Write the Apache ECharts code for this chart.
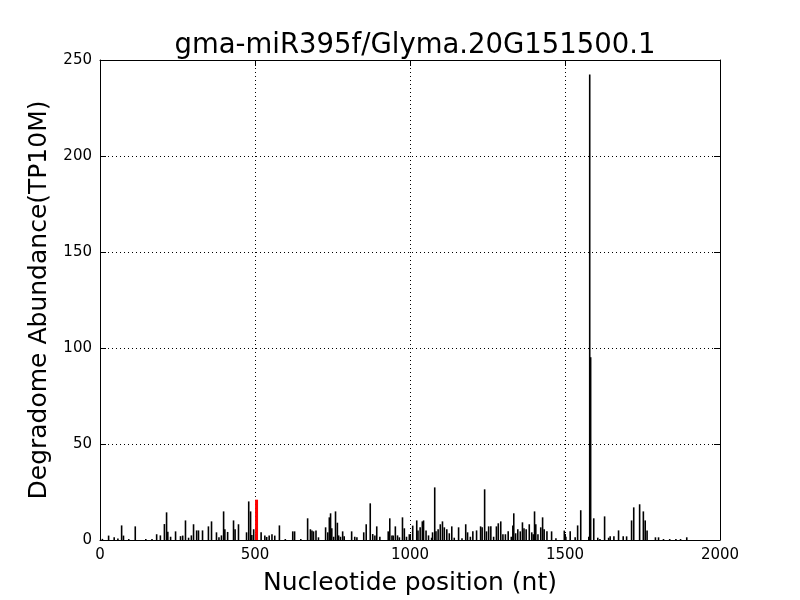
<!DOCTYPE html>
<html><head><meta charset="utf-8">
<script src="https://cdn.jsdelivr.net/npm/echarts@6/dist/echarts.min.js"></script>
<style>html,body{margin:0;padding:0;background:#fff}#c{width:800px;height:600px}</style>
</head><body><div id="c"></div>
<script>
const titleText = "gma-miR395f/Glyma.20G151500.1";
const xTicks = [0, 500, 1000, 1500, 2000];
const yTicks = [0, 50, 100, 150, 200, 250];
const positions = [10,30,48,60,72,78,95,116,150,170,185,197,210,217,221,230,246,262,269,278,288,297,304,314,320,333,352,362,378,386,394,401,405,414,433,438,449,475,482,488,492,498,
522,534,540,548,557,566,581,600,624,630,650,672,681,686,691,699,707,730,737,742,746,750,756,762,768,772,778,785,790,814,824,831,853,861,874,882,889,895,905,932,937,944,948,955,962,968,978,984,991,
1000,1011,1024,1028,1035,1042,1046,1054,1062,1072,1075,1082,1086,1093,1100,1107,1113,1121,1129,1137,1145,1159,1170,1182,1188,1197,1205,1217,1230,1235,1243,1249,1256,1263,1272,1281,1287,1295,1302,1310,1319,1329,1334,1337,1343,1350,1358,1365,1370,1377,1387,1395,1400,1404,1408,1415,1424,1430,1435,1444,1459,1473,
1500,1505,1519,1535,1543,1553,1579,1582,1585,1595,1608,1615,1630,1643,1648,1660,1675,1690,1701,1717,1724,1743,1755,1761,1767,1794,1804,1820,1840,1860,1875,1895];
const values = [0.6,2.3,1.4,0.8,7.6,2.3,0.5,7.1,0.5,0.5,3,2.4,8.3,14.4,4.3,1.7,4.5,2,2.3,10.2,1.2,2.4,8.2,5,5,5,7.1,9.7,4,1.4,2.4,14.9,5.6,4.2,10.2,5.6,8.2,4,20.1,14.9,2.6,5.6,
4,2.3,1.6,2.4,3,2.3,7.6,0.5,4.5,4.5,0.5,11.3,5.6,5,4.5,5,1.4,6.6,4,11.8,13.9,6.1,1.7,14.9,9,2.4,1.7,4.5,1.9,4.5,1.7,1.4,4,8.2,19.1,3.1,2.4,7.1,1.7,4.5,11.3,2.4,2.4,7.1,2.4,1.4,11.8,6.1,1.7,
3,7.5,10.2,5,6.6,9.7,10.2,5,2.4,1.2,4,27.4,4.5,5.6,8.2,9.7,6.6,5.6,3.5,7.1,1.2,6.6,0.9,8.2,4,1.7,4.5,5,7.1,6.6,26.4,4.5,7.1,7.1,1.7,7.1,8.7,9.7,3,3,4.5,1.7,7.6,13.9,3.5,5.6,4.5,9.2,6.1,5.6,8.2,4,3,14.9,8.2,3,6.6,11.8,5.6,4.5,4.5,0.9,
4.9,1.7,4.5,1.4,7.6,15.5,1.7,242.5,95.2,11.3,1.2,0.5,12.3,1.2,1.9,1.9,5,1.9,1.9,10.2,17,18.6,14.9,10.2,5,1.4,1.4,0.5,0.5,0.5,0.5,1.4];
const targetPos = [505];
const targetVal = [21];

const chart = echarts.init(document.getElementById('c'), null, {renderer: 'canvas'});
const font = 'DejaVu Sans';
const fmt = v => String(v);
const mkX = (show, pos) => ({
  type: 'value', min: 0, max: 2000, interval: 500, position: pos,
  axisLine: {show: true, onZero: false, lineStyle: {color: '#000', width: 1}},
  axisTick: {show: true, inside: true, length: 6, lineStyle: {color: '#000'}},
  axisLabel: {show: show, color: '#000', fontFamily: font, fontSize: 15, margin: 8, formatter: fmt},
  splitLine: {show: show, lineStyle: {color: '#000', type: [1, 3], width: 1}},
  name: show ? 'Nucleotide position (nt)' : '', nameLocation: 'middle', nameGap: 31,
  nameTextStyle: {color: '#000', fontFamily: font, fontSize: 25}
});
const mkY = (show, pos) => ({
  type: 'value', min: 0, max: 250, interval: 50, position: pos,
  axisLine: {show: true, onZero: false, lineStyle: {color: '#000', width: 1}},
  axisTick: {show: true, inside: true, length: 6, lineStyle: {color: '#000'}},
  axisLabel: {show: show, color: '#000', fontFamily: font, fontSize: 15, margin: 8, formatter: fmt},
  splitLine: {show: show, lineStyle: {color: '#000', type: [1, 3], width: 1}},
  name: show ? 'Degradome Abundance(TP10M)' : '', nameLocation: 'middle', nameGap: 46,
  nameTextStyle: {color: '#000', fontFamily: font, fontSize: 25}
});
chart.setOption({
  animation: false,
  backgroundColor: '#fff',
  title: {text: titleText, left: 410, textAlign: 'center', top: 27, textStyle: {fontFamily: font, fontSize: 27.5, fontWeight: 'normal', color: '#000'}},
  grid: {left: 100, right: 80, top: 60, bottom: 60, containLabel: false, outerBoundsMode: 'none'},
  xAxis: [mkX(true, 'bottom'), mkX(false, 'top')],
  yAxis: [mkY(true, 'left'), mkY(false, 'right')],
  series: [
    {type: 'bar', xAxisIndex: 0, yAxisIndex: 0, barWidth: 1.6, barGap: '-100%',
     itemStyle: {color: '#000'}, data: positions.map((p, i) => [p, values[i]])},
    {type: 'bar', xAxisIndex: 0, yAxisIndex: 0, barWidth: 3, barGap: '-100%',
     itemStyle: {color: '#ff0000'}, data: targetPos.map((p, i) => [p, targetVal[i]]), z: 5}
  ]
});
</script></body></html>
